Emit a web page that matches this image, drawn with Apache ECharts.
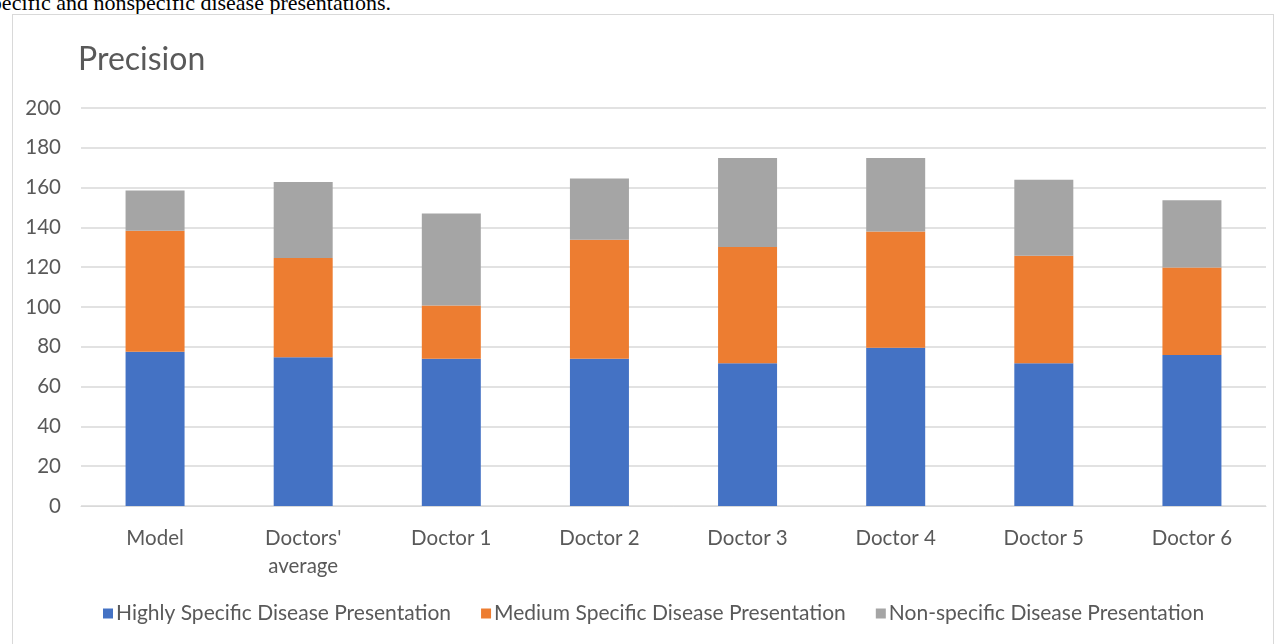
<!DOCTYPE html>
<html>
<head>
<meta charset="utf-8">
<script src="https://cdn.jsdelivr.net/npm/echarts@6/dist/echarts.min.js"></script>
<style>
  html, body { margin: 0; padding: 0; background: #fff; overflow: hidden; }
  #caption {
    position: absolute; right: calc(100% - 391px); top: -8px; white-space: nowrap; line-height: 1;
    font-family: "Liberation Serif", "DejaVu Serif", serif; font-size: 22px; color: #000;
  }
  #frame {
    position: absolute; left: 12px; top: 14px; width: 1262px; height: 640px;
    border: 1px solid #d9d9d9; box-sizing: border-box;
  }
  #chart { position: absolute; left: 0; top: 0; width: 1281px; height: 644px; }
</style>
</head>
<body>
<div id="caption">specific and nonspecific disease presentations.</div>
<div id="frame"></div>
<div id="chart"></div>
<script>
// Precision per rater, stacked by disease-presentation specificity
const categories = ["Model", "Doctors'\naverage", "Doctor 1", "Doctor 2", "Doctor 3", "Doctor 4", "Doctor 5", "Doctor 6"];
const highlySpecific = [77.5, 74.7, 74.0, 74.0, 71.7, 79.5, 71.7, 75.9];
const mediumSpecific = [60.8, 49.9, 26.8, 59.8, 58.5, 58.5, 54.1, 44.0];
const nonSpecific    = [20.2, 38.2, 46.2, 30.8, 44.7, 36.9, 38.2, 33.7];
const yTicks = { min: 0, max: 200, interval: 20 };

const font = "Lato, 'Open Sans', sans-serif";
const textColor = "#595959";

const chart = echarts.init(document.getElementById('chart'), null, { renderer: 'canvas' });

function barSeries(name, data, color) {
  return {
    name, type: 'bar', stack: 'total', data,
    barWidth: 59,
    itemStyle: { color },
    emphasis: { disabled: true }
  };
}

chart.setOption({
  animation: false,
  title: {
    text: 'Precision', left: 73, top: 39,
    textStyle: { fontFamily: font, fontSize: 32, fontWeight: 'normal', color: textColor }
  },
  legend: {
    bottom: 15, left: 98,
    itemWidth: 10, itemHeight: 10, itemGap: 30,
    icon: 'rect',
    textStyle: { fontFamily: font, fontSize: 21, color: textColor, padding: [0, 0, 0, -2] },
    data: ['Highly Specific Disease Presentation', 'Medium Specific Disease Presentation', 'Non-specific Disease Presentation']
  },
  grid: { left: 81, right: 15, top: 108, bottom: 138, containLabel: false },
  xAxis: {
    type: 'category', data: categories,
    axisLine: { lineStyle: { color: '#d9d9d9', width: 1 } },
    axisTick: { show: false },
    axisLabel: { fontFamily: font, fontSize: 20.5, color: textColor, margin: 18, lineHeight: 28 }
  },
  yAxis: {
    type: 'value', min: yTicks.min, max: yTicks.max, interval: yTicks.interval,
    axisLine: { show: false }, axisTick: { show: false },
    splitLine: { lineStyle: { color: '#d9d9d9', width: 1.5 } },
    axisLabel: { fontFamily: font, fontSize: 20.5, color: textColor, margin: 20 }
  },
  series: [
    barSeries('Highly Specific Disease Presentation', highlySpecific, '#4472C4'),
    barSeries('Medium Specific Disease Presentation', mediumSpecific, '#ED7D31'),
    barSeries('Non-specific Disease Presentation', nonSpecific, '#A5A5A5')
  ]
});
</script>
</body>
</html>
